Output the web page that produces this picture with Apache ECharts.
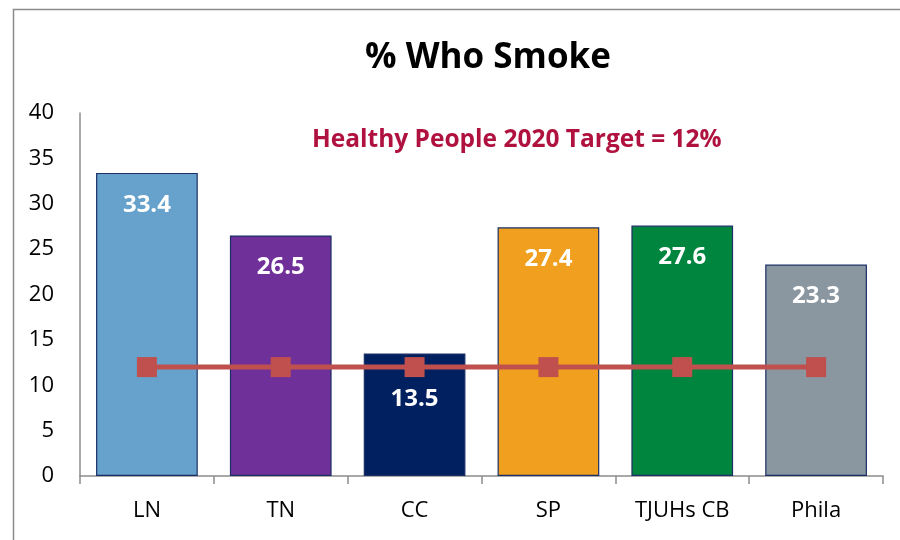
<!DOCTYPE html>
<html>
<head>
<meta charset="utf-8">
<script src="https://cdn.jsdelivr.net/npm/echarts@6/dist/echarts.min.js"></script>
<style>
  html, body { margin: 0; padding: 0; background: #fff; }
  #chart { width: 900px; height: 540px; }
</style>
</head>
<body>
<div id="chart"></div>
<script>
// Smoking prevalence by area, with the Healthy People 2020 target line
const categories = ['LN', 'TN', 'CC', 'SP', 'TJUHs CB', 'Phila'];
const smokePct = [33.4, 26.5, 13.5, 27.4, 27.6, 23.3];
const targetPct = [12, 12, 12, 12, 12, 12];
const barColors = ['#66A2CB', '#70309A', '#002060', '#F0A01E', '#00853F', '#8A96A0'];
const yTicks = { min: 0, max: 40, interval: 5 };
const titleText = '% Who Smoke';
const targetNote = 'Healthy People 2020 Target = 12%';

const FONT = '"Open Sans", "Liberation Sans", sans-serif';

const chart = echarts.init(document.getElementById('chart'), null, { renderer: 'canvas' });

const barData = smokePct.map((v, i) => {
  const item = { value: v, itemStyle: { color: barColors[i] } };
  // The CC label sits below the target marker
  if (categories[i] === 'CC') item.label = { distance: 34 };
  return item;
});

chart.setOption({
  animation: false,
  backgroundColor: '#ffffff',
  title: {
    text: titleText,
    left: 483,
    top: 36,
    textAlign: 'center',
    textStyle: { fontFamily: FONT, fontSize: 35, fontWeight: 'bold', color: '#000' }
  },
  graphic: [
    {
      type: 'rect',
      left: 11, top: 7,
      shape: { width: 920, height: 600 },
      style: { fill: 'none', stroke: '#8c8c8c', lineWidth: 1.5 },
      silent: true
    },
    {
      type: 'text',
      left: 312, top: 128,
      style: {
        text: targetNote,
        fill: '#B0123F',
        font: 'bold 24.5px ' + FONT
      },
      z: 10
    }
  ],
  grid: { left: 80, right: 17, top: 113, bottom: 64 },
  xAxis: {
    type: 'category',
    data: categories,
    axisLine: { lineStyle: { color: '#8c8c8c', width: 1.5 } },
    axisTick: { show: true, length: 8, lineStyle: { color: '#8c8c8c', width: 1.5 } },
    axisLabel: { color: '#000', fontFamily: FONT, fontSize: 22, margin: 24 }
  },
  yAxis: {
    type: 'value',
    min: yTicks.min, max: yTicks.max, interval: yTicks.interval,
    axisLine: { show: true, lineStyle: { color: '#8c8c8c', width: 1.5 } },
    axisTick: { show: false },
    splitLine: { show: false },
    axisLabel: { color: '#000', fontFamily: FONT, fontSize: 22, margin: 26 }
  },
  series: [
    {
      type: 'bar',
      data: barData,
      barCategoryGap: '24%',
      itemStyle: { borderColor: '#1B2F66', borderWidth: 1.2 },
      label: {
        show: true,
        position: 'insideTop',
        distance: 20,
        color: '#fff',
        fontFamily: FONT,
        fontSize: 24,
        fontWeight: 'bold',
        formatter: p => p.value.toFixed(1)
      },
      z: 2
    },
    {
      type: 'line',
      data: targetPct,
      symbol: 'rect',
      symbolSize: 20,
      lineStyle: { color: '#C0504D', width: 5 },
      itemStyle: { color: '#C0504D' },
      z: 5
    }
  ]
});
</script>
</body>
</html>
